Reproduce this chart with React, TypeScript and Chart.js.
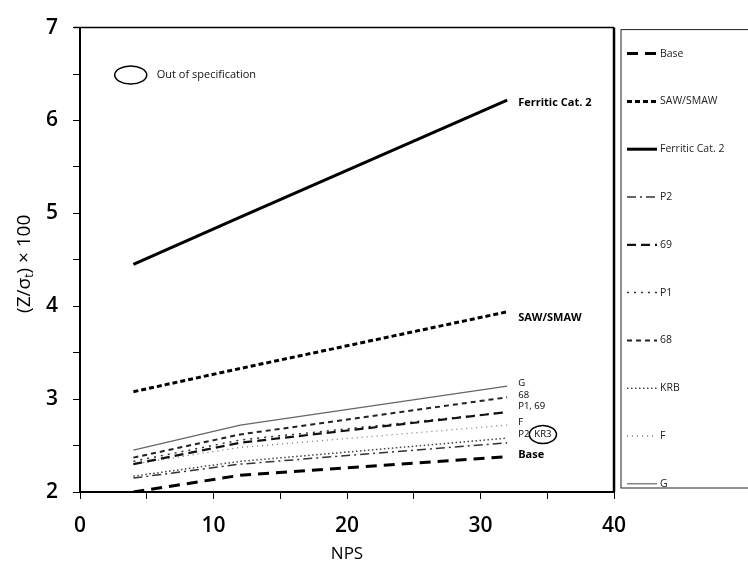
import React, { useEffect, useRef } from "react";
import { Chart, registerables } from "chart.js";

Chart.register(...registerables);

// ---- data ----
const nps = [4, 12, 32];
const seriesNames = ["Base", "SAW/SMAW", "Ferritic Cat. 2", "P2", "69", "P1", "68", "KRB", "F", "G"];
const baseVals = [2.0, 2.18, 2.38];
const sawVals = [3.08, 3.33, 3.94];
const ferriticVals = [4.45, 4.96, 6.22];
const p2Vals = [2.15, 2.3, 2.53];
const s69Vals = [2.3, 2.53, 2.86];
const p1Vals = [2.33, 2.56, 2.86];
const s68Vals = [2.37, 2.62, 3.02];
const krbVals = [2.17, 2.33, 2.58];
const fVals = [2.3, 2.48, 2.72];
const gVals = [2.45, 2.72, 3.14];
const allVals = [baseVals, sawVals, ferriticVals, p2Vals, s69Vals, p1Vals, s68Vals, krbVals, fVals, gVals];

const xTickLabels = ["0", "10", "20", "30", "40"];
const yTickLabels = ["2", "3", "4", "5", "6", "7"];

// end-of-line annotations (text, y value in data units)
const endLabels = ["Ferritic Cat. 2", "SAW/SMAW", "G", "68", "P1, 69", "F", "P2", "Base"];
const endLabelY = [6.19, 3.88, 3.17, 3.04, 2.92, 2.75, 2.62, 2.4];
const circledLabel = "KR3";
const noteText = "Out of specification";
const noteX = 3.8;
const noteY = 6.49;

// ---- styles ----
const styles = [
  { color: "#000", width: 3, dash: [11, 7] },
  { color: "#000", width: 3, dash: [5, 3] },
  { color: "#000", width: 3, dash: [] },
  { color: "#333", width: 1.5, dash: [9, 4, 2, 4] },
  { color: "#111", width: 2.2, dash: [9, 5] },
  { color: "#333", width: 1.5, dash: [2, 5] },
  { color: "#222", width: 2, dash: [5, 4] },
  { color: "#444", width: 1.5, dash: [1.5, 2.5] },
  { color: "#777", width: 1.3, dash: [1, 4] },
  { color: "#666", width: 1.2, dash: [] },
];
const boldLabels = ["Ferritic Cat. 2", "SAW/SMAW", "Base"];
const FONT = "'Open Sans', 'DejaVu Sans', sans-serif";

const annotPlugin = {
  id: "annot",
  afterDraw(chart: any) {
    const { ctx, chartArea: ca, scales } = chart;
    const xs = scales.x;
    const ys = scales.y;
    ctx.save();
    // frame top and right
    ctx.strokeStyle = "#000";
    ctx.setLineDash([]);
    ctx.lineWidth = 1.5;
    ctx.beginPath();
    ctx.moveTo(ca.left - 6, ca.top);
    ctx.lineTo(ca.right, ca.top);
    ctx.stroke();
    ctx.lineWidth = 2.5;
    ctx.beginPath();
    ctx.moveTo(ca.right, ca.top);
    ctx.lineTo(ca.right, ca.bottom);
    ctx.stroke();

    // y title with subscript
    ctx.save();
    ctx.translate(25, (ca.top + ca.bottom) / 2 + 4);
    ctx.rotate(-Math.PI / 2);
    ctx.fillStyle = "#000";
    ctx.textBaseline = "middle";
    const big = `19px ${FONT}`;
    const small = `12px ${FONT}`;
    const parts = [
      { t: "(Z/σ", f: big, dy: 0 },
      { t: "t", f: small, dy: 5 },
      { t: ") × 100", f: big, dy: 0 },
    ];
    let total = 0;
    for (const p of parts) { ctx.font = p.f; total += ctx.measureText(p.t).width; }
    let cx = -total / 2;
    ctx.textAlign = "left";
    for (const p of parts) {
      ctx.font = p.f;
      ctx.fillText(p.t, cx, p.dy);
      cx += ctx.measureText(p.t).width;
    }
    ctx.restore();

    // x title
    ctx.fillStyle = "#000";
    ctx.font = `17px ${FONT}`;
    ctx.textAlign = "center";
    ctx.textBaseline = "middle";
    ctx.fillText("NPS", (ca.left + ca.right) / 2, 554);

    // end labels
    const lx = xs.getPixelForValue(nps[nps.length - 1]) + 11;
    ctx.textAlign = "left";
    endLabels.forEach((t, i) => {
      const bold = boldLabels.includes(t);
      ctx.font = bold ? `bold 11px ${FONT}` : `9.5px ${FONT}`;
      ctx.fillStyle = "#000";
      ctx.fillText(t, lx, ys.getPixelForValue(endLabelY[i]));
      if (t === "P2") {
        const w = ctx.measureText(t).width;
        const py = ys.getPixelForValue(endLabelY[i]);
        const cw = ctx.measureText(circledLabel).width;
        const ecx = lx + w + 3 + cw / 2 + 2;
        ctx.fillText(circledLabel, lx + w + 5, py);
        ctx.lineWidth = 1.5;
        ctx.strokeStyle = "#000";
        ctx.beginPath();
        ctx.ellipse(ecx, py, cw / 2 + 5, 9, 0, 0, Math.PI * 2);
        ctx.stroke();
      }
    });

    // note
    const nx = xs.getPixelForValue(noteX);
    const ny = ys.getPixelForValue(noteY);
    ctx.lineWidth = 1.5;
    ctx.strokeStyle = "#000";
    ctx.beginPath();
    ctx.ellipse(nx, ny, 16, 9, 0, 0, Math.PI * 2);
    ctx.stroke();
    ctx.font = `11px ${FONT}`;
    ctx.fillStyle = "#111";
    ctx.fillText(noteText, nx + 26, ny);

    // legend box
    const lbLeft = ca.right + 7;
    const lbTop = ca.top + 2;
    const lbBottom = ca.bottom - 4;
    ctx.lineWidth = 1;
    ctx.strokeStyle = "#222";
    ctx.strokeRect(lbLeft, lbTop, chart.width - lbLeft + 10, lbBottom - lbTop);
    const step = 47.8;
    chart.data.datasets.forEach((ds: any, i: number) => {
      const yy = lbTop + 24 + i * step;
      ctx.setLineDash(ds.borderDash || []);
      ctx.lineWidth = ds.borderWidth;
      ctx.strokeStyle = ds.borderColor;
      ctx.beginPath();
      ctx.moveTo(lbLeft + 6, yy);
      ctx.lineTo(lbLeft + 36, yy);
      ctx.stroke();
      ctx.setLineDash([]);
      ctx.font = `10.5px ${FONT}`;
      ctx.fillStyle = "#222";
      ctx.textAlign = "left";
      ctx.fillText(ds.label, lbLeft + 39, yy);
    });
    ctx.restore();
  },
};

export default function App() {
  const ref = useRef<HTMLCanvasElement | null>(null);
  useEffect(() => {
    if (!ref.current) return;
    const datasets = seriesNames.map((name, i) => ({
      label: name,
      data: nps.map((xv, j) => ({ x: xv, y: allVals[i][j] })),
      borderColor: styles[i].color,
      borderWidth: styles[i].width,
      borderDash: styles[i].dash,
      pointRadius: 0,
      tension: 0,
      fill: false,
      borderCapStyle: "butt",
    }));
    const tickFont = { family: FONT, size: 21, weight: "600" as any };
    const chart = new Chart(ref.current, {
      type: "line",
      data: { datasets },
      options: {
        animation: false,
        responsive: false,
        layout: { padding: { left: 0, right: 134, top: 18, bottom: 0 } },
        plugins: { legend: { display: false }, tooltip: { enabled: false } },
        scales: {
          x: {
            type: "linear",
            min: 0,
            max: 40,
            ticks: {
              stepSize: 5,
              autoSkip: false,
              maxRotation: 0,
              padding: 14,
              color: "#000",
              font: tickFont,
              callback: (v: any) => {
                const s = String(v);
                return xTickLabels.includes(s) ? s : "";
              },
            },
            grid: { drawOnChartArea: false, drawTicks: true, tickLength: 7, color: "#000", lineWidth: 1 },
            border: { display: true, color: "#000", width: 2 },
            afterFit: (s: any) => { s.height = 76; },
          },
          y: {
            type: "linear",
            min: 2,
            max: 7,
            ticks: {
              stepSize: 0.5,
              autoSkip: false,
              padding: 15,
              color: "#000",
              font: tickFont,
              callback: (v: any) => {
                const s = String(v);
                return yTickLabels.includes(s) ? s : "";
              },
            },
            grid: { drawOnChartArea: false, drawTicks: true, tickLength: 7, color: "#000", lineWidth: 1 },
            border: { display: true, color: "#000", width: 2 },
            afterFit: (s: any) => { s.width = 80; },
          },
        },
      },
      plugins: [annotPlugin],
    } as any);
    return () => chart.destroy();
  }, []);
  return (
    <div style={{ position: "fixed", left: 0, top: 0, width: 748, height: 568, background: "#fff" }}>
      <canvas ref={ref} width={748} height={568} />
    </div>
  );
}
